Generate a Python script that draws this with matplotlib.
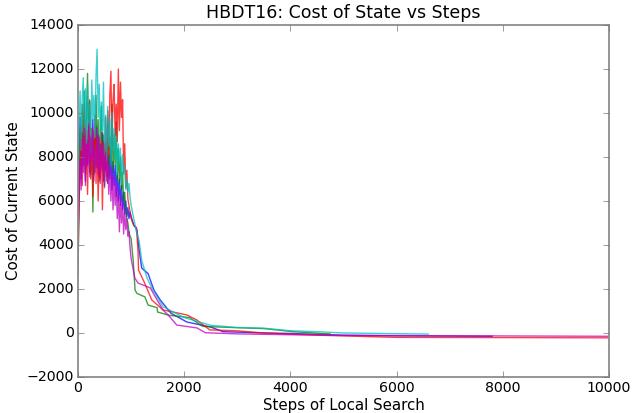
import numpy as np
import matplotlib
matplotlib.use('Agg')
import matplotlib.pyplot as plt

# noisy part of each run, sampled every 20 steps from 0 to 1000
blue_noisy = [5000, 8300, 9800, 7000, 9100, 7600, 9500, 6900, 8800, 7700, 10000,
              7300, 9000, 8000, 9700, 7200, 8700, 9400, 7500, 9000, 7100, 8600,
              7600, 9100, 6900, 8300, 7400, 8700, 6800, 8100, 7000, 8400, 6500,
              7800, 6700, 7600, 6200, 7300, 6000, 7000, 5800, 6700, 5600, 6400,
              5400, 6000, 5300, 5700, 5200, 5500, 5300]
green_noisy = [2600, 6000, 9200, 7600, 10400, 8200, 11000, 7400, 9800, 11800, 8600,
               10600, 7200, 9300, 5500, 8800, 7300, 10800, 8200, 9700, 6900, 9200,
               10300, 7500, 9000, 6700, 8600, 7800, 9500, 7100, 8900, 7700, 10400,
               7300, 9000, 7600, 9600, 7000, 8400, 6800, 8000, 6500, 7300, 6000,
               6400, 5600, 5200, 5000, 4600, 4400, 4300]
red_noisy = [3200, 5800, 7600, 9400, 6700, 8800, 10400, 7200, 9200, 6300, 8800,
             10500, 7000, 9300, 6200, 8500, 9900, 6800, 8900, 6000, 8300, 7000,
             9100, 5600, 8600, 7400, 9800, 6900, 10100, 8000, 10800, 11900, 8500,
             10600, 11300, 9000, 10400, 8700, 12000, 9200, 11400, 9800, 10600, 7300,
             8600, 6600, 7400, 6100, 5800, 5500, 5200]
cyan_noisy = [6800, 9200, 11000, 8300, 10700, 11600, 9000, 11100, 8600, 11300, 9400,
              10400, 8200, 11500, 9700, 10800, 8900, 11700, 12900, 9800, 11300, 8800,
              10500, 9200, 11400, 8100, 9900, 7800, 10300, 8500, 9700, 7600, 10000,
              8300, 9300, 7900, 8900, 7200, 8600, 7700, 8400, 6800, 8100, 7200,
              7600, 6500, 7000, 6400, 6800, 6200, 5800]
magenta_noisy = [4200, 6200, 7900, 6500, 8800, 7300, 9300, 6700, 8600, 7600, 9500,
                 7100, 8900, 7800, 9200, 6900, 8400, 7500, 9300, 7200, 8900, 6800,
                 8500, 7400, 8700, 6600, 8200, 7100, 8000, 6300, 7700, 6000, 7400,
                 5600, 7100, 5800, 6800, 5200, 6500, 4600, 6200, 5000, 5900, 4500,
                 5600, 4700, 5200, 4400, 4600, 3900, 3400]

# descent and tail
blue_tail_x = [1050, 1110, 1150, 1200, 1320, 1430, 1550, 1750, 2050, 2500, 2730, 3500, 4000, 4500, 5000, 6000, 7800]
blue_tail_y = [4900, 4700, 3800, 2950, 2700, 1950, 1500, 900, 500, 270, 60, 0, -20, -60, -100, -130, -150]
green_tail_x = [1040, 1075, 1110, 1260, 1320, 1490, 1500, 1730, 2100, 2350, 3000, 3500, 4050, 4750]
green_tail_y = [3300, 1950, 1800, 1640, 1270, 1150, 950, 800, 700, 300, 240, 200, 60, -45]
red_tail_x = [1050, 1100, 1130, 1140, 1250, 1390, 1600, 2050, 2240, 2480, 3000, 3500, 4500, 6000, 10000]
red_tail_y = [4900, 4800, 3770, 2860, 2300, 1500, 1050, 820, 590, 140, 100, 0, -100, -200, -220]
cyan_tail_x = [1050, 1100, 1150, 1200, 1300, 1400, 1600, 2000, 2500, 3000, 3500, 4000, 4500, 5000, 6600]
cyan_tail_y = [5200, 4600, 4200, 3300, 2500, 2000, 1200, 700, 350, 250, 220, 100, 60, 0, -50]
magenta_tail_x = [1070, 1130, 1360, 1490, 1600, 1730, 1860, 2240, 2400, 3000, 4000, 5000, 10000]
magenta_tail_y = [2500, 2270, 2050, 1500, 1050, 730, 360, 230, 10, -40, -80, -110, -150]

runs = [
    ('b', blue_noisy, blue_tail_x, blue_tail_y),
    ('g', green_noisy, green_tail_x, green_tail_y),
    ('r', red_noisy, red_tail_x, red_tail_y),
    ('c', cyan_noisy, cyan_tail_x, cyan_tail_y),
    ('m', magenta_noisy, magenta_tail_x, magenta_tail_y),
]

plt.style.use('classic')
fig = plt.figure(figsize=(6.34, 4.13), dpi=100, facecolor='white')
ax = fig.add_axes([0.123, 0.0872, 0.8376, 0.8523])

for col, noisy, tx, ty in runs:
    x = np.concatenate([np.arange(len(noisy)) * 20, tx])
    y = np.concatenate([noisy, ty])
    ax.plot(x, y, color=col, lw=1, alpha=0.75)

ax.set_xlim(0, 10000)
ax.set_ylim(-2000, 14000)
ax.set_xticks(np.arange(0, 10001, 2000))
ax.set_yticks(np.arange(-2000, 14001, 2000))
ax.tick_params(labelsize=10.2, color='0.45', pad=3)
for s in ax.spines.values():
    s.set_color('0.55')
    s.set_linewidth(1.3)

ax.set_title('HBDT16: Cost of State vs Steps', fontsize=12.5)
ax.set_xlabel('Steps of Local Search', fontsize=10.8, labelpad=2)
ax.set_ylabel('Cost of Current State', fontsize=10.8, labelpad=4)

fig.savefig('out.png', dpi=100, facecolor='white')
